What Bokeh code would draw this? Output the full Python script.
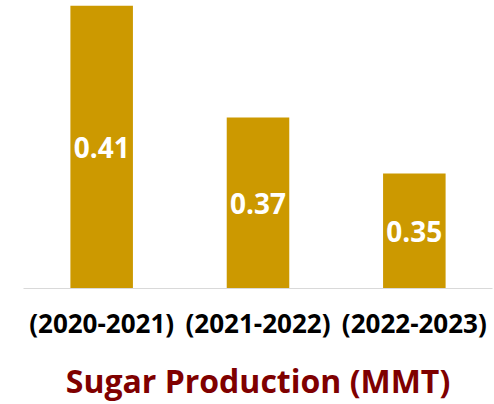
from bokeh.plotting import figure
from bokeh.models import ColumnDataSource, Range1d
from bokeh.core.properties import value
from bokeh.embed import file_html
from bokeh.resources import INLINE

categories = ["(2020-2021)", "(2021-2022)", "(2022-2023)"]
production = [0.41, 0.37, 0.35]
labels = ["0.41", "0.37", "0.35"]
title_text = "Sugar Production (MMT)"

y_start, y_end = 0.309, 0.41

src = ColumnDataSource(dict(
    cat=categories,
    val=production,
    mid=[(y_start + v) / 2 for v in production],
    lab=labels,
))

p = figure(x_range=categories, y_range=Range1d(y_start, y_end),
           frame_width=469, frame_height=283, output_backend="svg", toolbar_location=None,
           min_border_left=23, min_border_right=2, min_border_top=5, min_border_bottom=0)

p.vbar(x="cat", top="val", bottom=y_start, width=0.40, source=src,
       fill_color="#CC9900", line_color=None)

p.text(x="cat", y="mid", text="lab", source=src, text_align="center",
       text_baseline="middle", text_color="white",
       text_font=value("Open Sans"), text_font_style="bold", text_font_size="28px")

p.yaxis.visible = False
p.xgrid.grid_line_color = None
p.ygrid.grid_line_color = None
p.outline_line_color = None
p.background_fill_color = "white"
p.border_fill_color = "white"

ax = p.xaxis[0]
ax.axis_line_color = "#D9D9D9"
ax.axis_line_width = 1
ax.major_tick_line_color = None
ax.minor_tick_line_color = None
ax.major_tick_out = 0
ax.major_tick_in = 0
ax.major_label_text_font = "Open Sans"
ax.major_label_text_font_style = "bold"
ax.major_label_text_font_size = "26px"
ax.major_label_text_color = "black"
ax.major_label_standoff = 16
ax.axis_label = title_text
ax.axis_label_text_font = "Open Sans"
ax.axis_label_text_font_style = "bold"
ax.axis_label_text_font_size = "32px"
ax.axis_label_text_color = "#7F0000"
ax.axis_label_standoff = 15

open("out.html", "w").write(file_html(p, INLINE))
